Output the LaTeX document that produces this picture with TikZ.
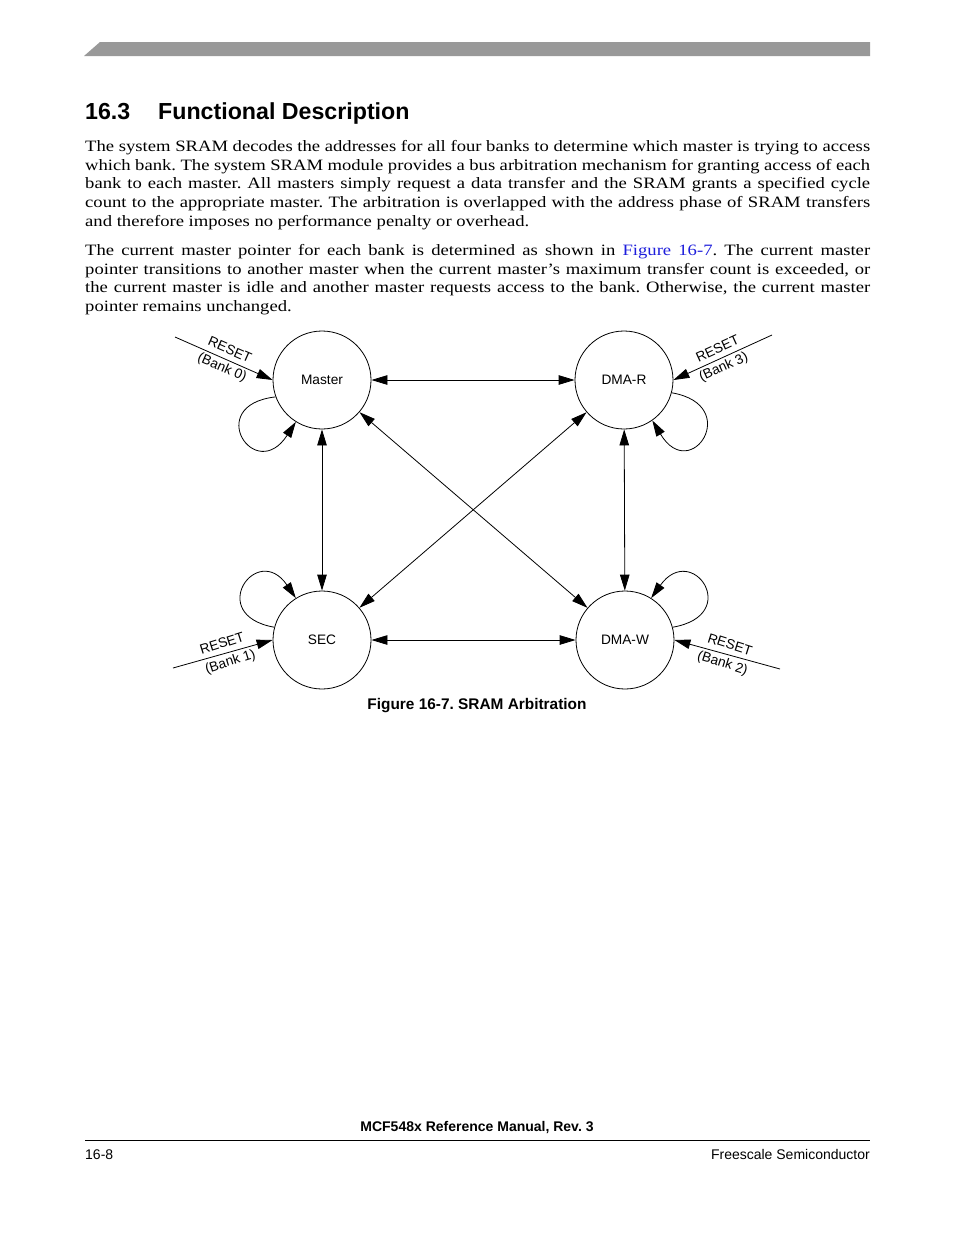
\documentclass[tikz,border=0pt]{standalone}
\usepackage{fontspec}
\setmainfont{Liberation Serif}[FakeStretch=1.18]
\newfontfamily\hv{Liberation Sans}
\usetikzlibrary{arrows.meta,calc}
\definecolor{barGray}{RGB}{153,153,153}
\definecolor{linkBlue}{RGB}{30,30,220}
\frenchspacing
\begin{document}
\begin{tikzpicture}[x=1pt,y=1pt,
  state/.style={draw, circle, minimum size=98pt, inner sep=0pt, line width=0.8pt, font=\hv\fontsize{13.7}{16}\selectfont},
  conn/.style={line width=0.8pt},
  tipend/.style={-{Triangle[length=16pt,width=9.5pt]}},
  bothend/.style={{Triangle[length=16pt,width=9.5pt]}-{Triangle[length=16pt,width=9.5pt]}},
  lbl/.style={font=\hv\fontsize{13.7}{16}\selectfont, inner sep=0pt, anchor=center},
  bodyline/.style={anchor=base west, inner sep=0pt, font=\frenchspacing\fontsize{15.8}{18.7}\selectfont},
  sanstext/.style={inner sep=0pt, font=\hv\fontsize{14}{16}\selectfont},
]
\useasboundingbox (0,0) rectangle (954,-1235);
\fill[white] (0,0) rectangle (954,-1235);

% header bar
\fill[barGray] (84,-56) -- (100,-42) -- (870,-42) -- (870,-56) -- cycle;

% heading
\node[anchor=base west, inner sep=0pt, font=\hv\bfseries\fontsize{23.2}{26}\selectfont] (h1) at (85,-119) {16.3};
\node[anchor=base west, inner sep=0pt, font=\hv\bfseries\fontsize{23.2}{26}\selectfont] (h2) at (158,-119) {Functional Description};

% paragraph 1
\node[bodyline] (p11) at (85,-151.5) {\makebox[785pt][s]{The system SRAM decodes the addresses for all four banks to determine which master is trying to access}};
\node[bodyline] (p12) at (85,-170.2) {\makebox[785pt][s]{which bank. The system SRAM module provides a bus arbitration mechanism for granting access of each}};
\node[bodyline] (p13) at (85,-188.9) {\makebox[785pt][s]{bank to each master. All masters simply request a data transfer and the SRAM grants a specified cycle}};
\node[bodyline] (p14) at (85,-207.6) {\makebox[785pt][s]{count to the appropriate master. The arbitration is overlapped with the address phase of SRAM transfers}};
\node[bodyline] (p15) at (85,-226.3) {and therefore imposes no performance penalty or overhead.};

% paragraph 2
\node[bodyline] (p21) at (85,-255.5) {\makebox[785pt][s]{The current master pointer for each bank is determined as shown in {\color{linkBlue}Figure 16-7}. The current master}};
\node[bodyline] (p22) at (85,-274.2) {\makebox[785pt][s]{pointer transitions to another master when the current master’s maximum transfer count is exceeded, or}};
\node[bodyline] (p23) at (85,-292.9) {\makebox[785pt][s]{the current master is idle and another master requests access to the bank. Otherwise, the current master}};
\node[bodyline] (p24) at (85,-311.6) {pointer remains unchanged.};

% states
\node[state] (M) at (322,-380) {Master};
\node[state] (R) at (624,-380) {DMA-R};
\node[state] (S) at (322,-640) {SEC};
\node[state] (W) at (625,-640) {DMA-W};

% connectors
\draw[conn,bothend] (M) -- (R);
\draw[conn,bothend] (M) -- (S);
\draw[conn,bothend] (R) -- (W);
\draw[conn,bothend] (S) -- (W);
\draw[conn,bothend] (M) -- (W);
\draw[conn,bothend] (R) -- (S);

% self loops
\draw[conn,tipend] (M.200) .. controls (203,-405) and (255,-485) .. (M.238);
\draw[conn,tipend] (R.345) .. controls (743,-405) and (691,-485) .. (R.305);
\draw[conn,tipend] (S.165) .. controls (205,-615) and (257,-541) .. (S.122);
\draw[conn,tipend] (W.15) .. controls (743,-615) and (692,-541) .. (W.58);

% reset inputs
\coordinate (r0) at (175,-337);
\coordinate (r3) at (772,-335);
\coordinate (r1) at (173,-668);
\coordinate (r2) at (780,-669);
\draw[conn,tipend] (r0) -- (M.180);
\draw[conn,tipend] (r3) -- (R.0);
\draw[conn,tipend] (r1) -- (S.180);
\draw[conn,tipend] (r2) -- (W.0);

\path ($(r0)!0.52!(M.180)$) ++(66.3:10.5) node[lbl, rotate=-23.7] (l0a) {RESET};
\path ($(r0)!0.52!(M.180)$) ++(-113.7:9.5) node[lbl, rotate=-23.7] (l0b) {(Bank 0)};
\path ($(r3)!0.51!(R.0)$) ++(114.4:10.5) node[lbl, rotate=24.4] (l3a) {RESET};
\path ($(r3)!0.53!(R.0)$) ++(-65.6:9.5) node[lbl, rotate=24.4] (l3b) {(Bank 3)};
\path ($(r1)!0.52!(S.180)$) ++(105.6:10.5) node[lbl, rotate=17.5] (l1a) {RESET};
\path ($(r1)!0.55!(S.180)$) ++(-74.4:10) node[lbl, rotate=17.5] (l1b) {(Bank 1)};
\path ($(r2)!0.50!(W.0)$) ++(74.7:10.5) node[lbl, rotate=-17.5] (l2a) {RESET};
\path ($(r2)!0.52!(W.0)$) ++(-105.3:10) node[lbl, rotate=-17.5] (l2b) {(Bank 2)};

% caption
\node[anchor=base, inner sep=0pt, font=\hv\bfseries\fontsize{15.4}{17}\selectfont] (cap) at (477,-709.5) {Figure 16-7. SRAM Arbitration};

% footer
\node[anchor=base, inner sep=0pt, font=\hv\bfseries\fontsize{14}{16}\selectfont] (ft) at (477,-1131) {MCF548x Reference Manual, Rev. 3};
\draw[line width=1pt] (85,-1140) -- (870,-1140);
\node[sanstext, anchor=base west] (pg) at (85,-1159) {16-8};
\node[sanstext, anchor=base east] (fs) at (870,-1159) {Freescale Semiconductor};
\end{tikzpicture}
\end{document}
